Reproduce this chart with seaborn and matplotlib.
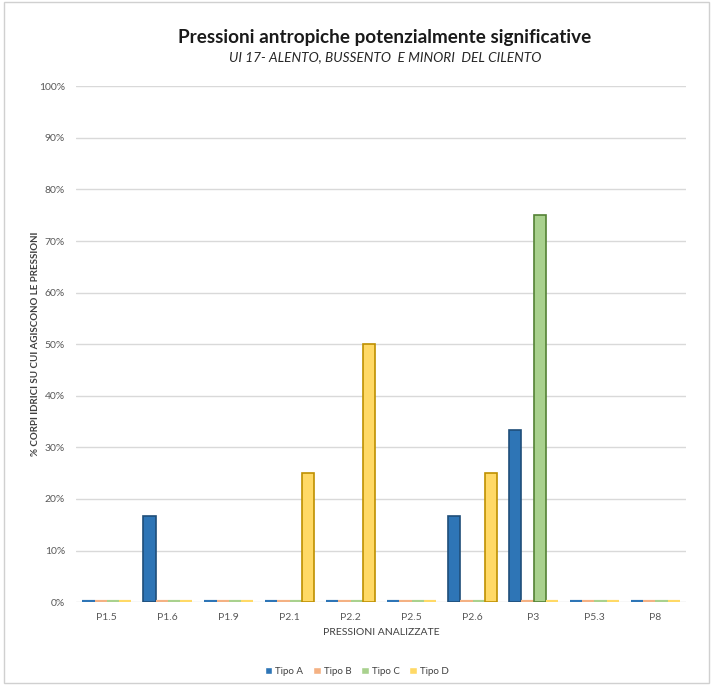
import pandas as pd
import seaborn as sns
import matplotlib.pyplot as plt
from matplotlib.patches import Rectangle
from matplotlib.ticker import PercentFormatter

pressioni = ['P1.5', 'P1.6', 'P1.9', 'P2.1', 'P2.2', 'P2.5', 'P2.6', 'P3', 'P5.3', 'P8']
tipo_a = [0, 16.67, 0, 0, 0, 0, 16.67, 33.33, 0, 0]
tipo_b = [0, 0, 0, 0, 0, 0, 0, 0, 0, 0]
tipo_c = [0, 0, 0, 0, 0, 0, 0, 75.0, 0, 0]
tipo_d = [0, 0, 0, 25.0, 50.0, 0, 25.0, 0, 0, 0]
tipi = ['Tipo A', 'Tipo B', 'Tipo C', 'Tipo D']

colori = ['#2E75B6', '#F4B183', '#A9D18E', '#FFD966']
bordi = ['#1F4E79', '#C55A11', '#548235', '#BF9000']

df = pd.DataFrame({'Pressione': pressioni, 'Tipo A': tipo_a, 'Tipo B': tipo_b,
                   'Tipo C': tipo_c, 'Tipo D': tipo_d})
df = df.melt(id_vars='Pressione', var_name='Tipo', value_name='Valore')

sns.set_style('white')
plt.rcParams['font.family'] = ['Lato', 'DejaVu Sans']

fig = plt.figure(figsize=(7.13, 6.85), dpi=100)
ax = fig.add_axes([0.107, 0.121, 0.855, 0.753])

sns.barplot(data=df, x='Pressione', y='Valore', hue='Tipo', hue_order=tipi,
            palette=colori, width=0.8, ax=ax, saturation=1)

# bordo piu scuro per effetto "3D"; le barre a zero restano visibili come una lastra sottile
for cont, fc, ec in zip(ax.containers, colori, bordi):
    for bar in cont:
        if bar.get_height() == 0:
            bar.set_edgecolor(fc)
            bar.set_linewidth(3)
        else:
            bar.set_edgecolor(ec)
            bar.set_linewidth(1.2)

ax.set_ylim(0, 100)
ax.set_yticks(range(0, 101, 10))
ax.yaxis.set_major_formatter(PercentFormatter(decimals=0))
ax.grid(axis='y', color='#D9D9D9', linewidth=1)
ax.set_axisbelow(True)
sns.despine(ax=ax, left=True, bottom=True)
ax.tick_params(axis='both', length=0, labelsize=7.5, colors='#595959', pad=8)

ax.set_xlabel('PRESSIONI ANALIZZATE', fontsize=7.5, color='#404040', labelpad=4)
ax.set_ylabel('% CORPI IDRICI SU CUI AGISCONO LE PRESSIONI', fontsize=7, color='#404040',
              fontweight='bold', labelpad=-1)

fig.text(0.54, 0.945, 'Pressioni antropiche potenzialmente significative',
         ha='center', va='center', fontsize=13.6, fontweight='bold', color='#1a1a1a')
fig.text(0.54, 0.917, 'UI 17- ALENTO, BUSSENTO  E MINORI  DEL CILENTO',
         ha='center', va='center', fontsize=9.8, style='italic', color='#262626')

ax.legend(loc='upper center', bbox_to_anchor=(0.46, -0.108), ncol=4, frameon=False,
          fontsize=7, handlelength=0.8, handleheight=0.8, handletextpad=0.3,
          columnspacing=1.0, labelcolor='#404040')

fig.patches.append(Rectangle((0.005, 0.003), 0.99, 0.994, transform=fig.transFigure,
                             fill=False, edgecolor='#D0D0D0', linewidth=1))

fig.savefig('out.png', dpi=100)
